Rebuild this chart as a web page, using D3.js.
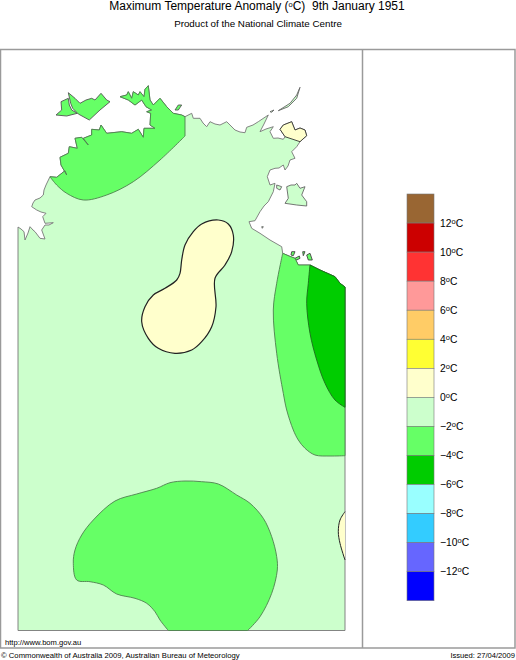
<!DOCTYPE html>
<html>
<head>
<meta charset="utf-8">
<script src="https://cdn.jsdelivr.net/npm/d3@7"></script>
<style>
html, body { margin: 0; padding: 0; background: #fff; }
svg { display: block; }
text { font-family: "Liberation Sans", Arial, sans-serif; fill: #000; }
</style>
</head>
<body>
<svg id="chart" width="516" height="660"></svg>
<script>
// map outlines, [easting, northing] in map grid units
var coast_sw = [[0,1.5],[0,405],[3,403],[6,400.3],[7,392],[10,399],[12,405.3],[15,402],[17,400.3],[22,393.7],[27,393],[23.7,402],[27,407],[31,407],[35.3,409.3],[27,408.7],[24.7,415.3],[28,418.7],[23,420],[18.7,422],[13.7,425.3],[15,429],[17,432],[22,434],[25.3,437],[26,442],[28,447]];
var coast_west = [[32,455.3],[38.7,454.7],[47,461.3],[48.7,457],[43,467],[42,474.7],[50.3,478.7],[51.3,485.3],[59.3,483.7],[57,493.7],[63.7,494.7],[70.3,487],[65.3,493.7],[73.7,497],[73.7,502.7],[81.3,502],[83,507],[88.7,498.7],[103.7,500.3],[113.7,498.7],[120.3,502.7],[125.3,494.7],[126,503.7],[137,503.7],[132,507],[132.7,518.7],[128.7,520.3],[133.7,522],[128,525.3],[123.7,532],[117,527],[110.3,532],[102,535.3],[108.7,537],[110.3,540.3],[113.7,533.7],[115.3,540.3],[120.3,537],[122,540.3],[126,535.3],[127,542.7],[130.3,546.3],[132,532],[135.3,527],[142,533.7],[148.7,525.3],[155.3,518.7],[163.7,517],[167,515.3]];
var coast_north = [[173.7,518.7],[175.3,513.7],[182,513.7],[185,509],[188.7,505.3],[192,510.3],[197,508],[202,507],[208.7,510.3],[213,506],[217,502],[222,500],[227,499.3],[228.7,504.7],[235,507],[240.3,510.3],[250.3,517],[246,508],[242,500.3],[248,503],[255.3,505.3],[252,500.3],[255.3,493.7],[260,494],[265.3,492.7],[267,495.3]];
var coast_gove = [[262,502.7],[265.3,507],[273.7,510.3],[277,502],[282,504],[287,502],[288.7,496.3],[282,490.3]];
var coast_east = [[278.7,485.3],[273.7,480.3],[277,473.7],[272,472],[270,466],[267,462],[265.3,467],[261,464],[257,463.7],[252,462],[249.3,455.3],[252,447],[257,448.7],[255.3,440.3],[250.3,430.3],[246,426],[242,420.3],[237,411.3],[231,410.3],[233.7,403.7],[242,398.7],[252,392],[263.7,385.3]];
var coast_gulf_a = [[264.7,378.7],[271,376],[277,373.7],[280.3,367]];
var coast_gulf_b = [[292,367],[302,362],[317,355.3],[322,348.7],[327,345]];

// contours of the anomaly areas, smoothed when drawn
var west_edge = [[167,496],[142,472],[115.3,450.3],[88.7,437],[65.3,432],[48.7,438.7],[38.7,447],[32,455.3]];
var east_edge = [[327,176.3],[312,176],[297,177],[287,183.7],[280.3,192],[275.3,202],[268.7,222],[265.3,238.7],[258.7,278.7],[255.3,322],[258.7,348.7],[264.7,378.7]];
var east_core_edge = [[327,224.7],[317,232],[307,248.7],[298.7,272],[292,298.7],[288.7,328.7],[290.3,348.7],[292,367]];
var south_area = [[150.3,1.5],[142,12],[137,20.3],[128.7,28.7],[117,33.7],[98.7,38],[85.3,47],[72,50.3],[58.7,52],[55.3,68.7],[57,82],[63.7,97],[75.3,112],[97,131],[118.7,138],[138.7,143.7],[152,149.3],[167,151],[183.7,150.3],[200.3,148],[218.7,137],[232,128.7],[245.3,113.7],[253.7,95.3],[258.7,75.3],[259.3,62],[253.7,38.7],[242,15.3],[229.7,1.5]];
var centre_area = [[183.7,408],[200.3,412],[210.3,408],[215.3,397],[213.7,380.3],[207,367],[197,353.7],[198,325.3],[193.7,305.3],[183.7,290.3],[173.7,282],[157,278.7],[140.3,283.7],[130.3,293.7],[123.7,310.3],[127,325.3],[135.3,337],[147,343.7],[158.7,352],[162,358.7],[163.7,372],[167,387],[175.3,400.3]];
var border_area = [[327,120.3],[322,112],[320.3,100.3],[322,88.7],[327,72]];

var bathurst = [[38,517],[43.7,522],[43,530.3],[50.3,533.7],[51.3,527],[53.7,522],[59.3,518.7],[48.7,516]];
var melville = [[50.3,539.3],[57,533.7],[62,528.7],[68,532],[73.7,533.7],[77,532],[83,538.7],[88.7,532],[92,530.3],[82,522],[71.3,512],[60.3,518],[54.7,523.7],[52.7,528.7]];
var islet_west = [[157,522],[160.3,527],[163.7,527],[160.3,522]];
var islands_light = [
  [[260.3,521.3],[272,528.7],[278.7,537],[282,544.7],[278.7,533.7],[270.3,525.3]],
  [[252,520.3],[256,522],[253.7,519.7]],
  [[268.7,445.3],[273,447],[277,447],[278.7,448.7],[282,443.7],[287,445.3],[283.7,437],[288.7,430.3],[288.7,426],[278.7,427],[267,428.7],[270.3,433.7]],
  [[258.7,447],[263.7,445.3],[262,442],[258.7,443.7]],
  [[243.7,405.3],[245.3,405.3],[244.3,403.7]]
];
var islands_green = [
  [[273.7,380.3],[277,380.3],[275.3,376.3],[273,377]],
  [[277,373.7],[281.3,376],[282,373.7],[278.7,372]],
  [[284.7,380.3],[287,380.3],[285.3,376.3]],
  [[288.7,377],[292,378.7],[294.3,372],[290.3,372]]
];

// legend
var bin_colours = ["#996633","#cc0000","#ff3333","#ff9999","#ffcc66","#ffff33","#ffffcc","#ccffcc","#66ff66","#00cc00","#99ffff","#33ccff","#6666ff","#0000ff"];
var bin_tops = [14,12,10,8,6,4,2,0,-2,-4,-6,-8,-10,-12];
var tick_values = [12,10,8,6,4,2,0,-2,-4,-6,-8,-10,-12];

var title_text = "Maximum Temperature Anomaly (";
var title_date = "C)  9th January 1951";
var subtitle_text = "Product of the National Climate Centre";
var site_text = "http://www.bom.gov.au";
var copyright_text = "\u00a9 Commonwealth of Australia 2009, Australian Bureau of Meteorology";
var issued_text = "Issued: 27/04/2009";

var svg = d3.select("#chart");

var x = d3.scaleLinear().domain([0,327]).range([18,345]);
var y = d3.scaleLinear().domain([0,540]).range([632,92]);
var t = d3.scaleLinear().domain([14,-14]).range([194,600.7]);

var outline = d3.line().x(function(d){ return x(d[0]); }).y(function(d){ return y(d[1]); });
var smooth = d3.line().x(function(d){ return x(d[0]); }).y(function(d){ return y(d[1]); }).curve(d3.curveCatmullRom.alpha(0.5));
var smooth_closed = d3.line().x(function(d){ return x(d[0]); }).y(function(d){ return y(d[1]); }).curve(d3.curveCatmullRomClosed.alpha(0.5));

var LAND = "#ccffcc", GREEN = "#66ff66", DARK = "#00cc00", BEIGE = "#ffffcc";

function draw(d, fill, stroke, sw){
    svg.append("path").attr("d", d)
        .attr("fill", fill).attr("stroke", stroke).attr("stroke-width", sw)
        .attr("stroke-linejoin", "round");
}
function area(pts, fill, stroke, sw){ draw(outline(pts) + "Z", fill, stroke, sw); }
// straight coast followed by a smoothed contour
function coast_contour(coast, edge){ return outline(coast) + smooth(edge).replace(/^M/, "L") + "Z"; }

// frame
var frame = "#9a9a9a";
svg.append("rect").attr("x",0.5).attr("y",49.5).attr("width",514.5).attr("height",598.5)
    .attr("fill","none").attr("stroke",frame).attr("stroke-width",1.5);
svg.append("line").attr("x1",362.5).attr("x2",362.5).attr("y1",49.5).attr("y2",648)
    .attr("stroke",frame).attr("stroke-width",1.5);

// land, then anomaly areas on top
var land = [].concat(coast_sw, coast_west, coast_north, coast_gove, coast_east, coast_gulf_a, coast_gulf_b, [[327,1.5]]);
area(land, LAND, "#777", 0.9);
islands_light.forEach(function(p){ area(p, LAND, "#666", 0.9); });

area(bathurst, GREEN, "#555", 0.9);
area(melville, GREEN, "#555", 0.9);
area(islet_west, GREEN, "#555", 0.9);
islands_green.forEach(function(p){ area(p, GREEN, "#444", 0.9); });

draw(coast_contour(coast_west, west_edge), GREEN, "#4f7f4f", 0.9);
draw(coast_contour(coast_gulf_a.concat(coast_gulf_b), east_edge), GREEN, "#4f7f4f", 0.9);
draw(coast_contour(coast_gulf_b, east_core_edge), DARK, "#1c6b1c", 0.9);
draw(smooth(south_area) + "Z", GREEN, "#4f7f4f", 0.9);
area(coast_gove.concat([[267,495.3]]), BEIGE, "#333", 0.9);
draw(smooth_closed(centre_area) + "Z", BEIGE, "#222", 1.2);
draw(smooth(border_area), BEIGE, "#222", 1);

// colour bar
svg.append("g").selectAll("rect").data(bin_tops).join("rect")
    .attr("x",407).attr("width",27)
    .attr("y",function(d){ return t(d); })
    .attr("height",function(d){ return t(d-2)-t(d); })
    .attr("fill",function(d,i){ return bin_colours[i]; })
    .attr("stroke","#777").attr("stroke-width",0.6);

var axis = svg.append("g").attr("transform","translate(434,0)")
    .call(d3.axisRight(t).tickValues(tick_values).tickSize(0).tickPadding(6));
axis.select(".domain").remove();
axis.selectAll("text").each(function(d){
    var el = d3.select(this).text(null).attr("font-size",10.3).attr("font-family",null);
    el.append("tspan").text((d < 0 ? "\u2212" : "") + Math.abs(d));
    el.append("tspan").attr("font-size",7.5).attr("dy",-3).text("o");
    el.append("tspan").attr("dy",3).text("C");
});

// titles
var title = svg.append("text").attr("x",257).attr("y",10).attr("text-anchor","middle").attr("font-size",12);
title.append("tspan").text(title_text);
title.append("tspan").attr("font-size",7.5).attr("dy",-3).text("o");
title.append("tspan").attr("dy",3).style("white-space","pre").text(title_date);

svg.append("text").attr("x",258).attr("y",27).attr("text-anchor","middle").attr("font-size",9.8).text(subtitle_text);
svg.append("text").attr("x",5).attr("y",645).attr("font-size",7.6).text(site_text);
svg.append("text").attr("x",1).attr("y",658).attr("font-size",7.7).text(copyright_text);
svg.append("text").attr("x",515).attr("y",658).attr("text-anchor","end").attr("font-size",7.6).text(issued_text);
</script>
</body>
</html>
